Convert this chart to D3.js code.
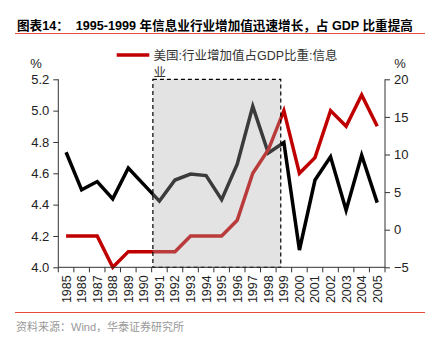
<!DOCTYPE html>
<html><head><meta charset="utf-8">
<script src="https://cdn.jsdelivr.net/npm/d3@7"></script>
<style>
html,body{margin:0;padding:0;background:#fff;}
svg{display:block;font-family:"Liberation Sans",Arial,"Noto Sans CJK SC",sans-serif;}
</style></head>
<body><svg id="c" width="437" height="341"></svg>
<script>
const years = [1985,1986,1987,1988,1989,1990,1991,1992,1993,1994,1995,1996,1997,1998,1999,2000,2001,2002,2003,2004,2005];
// 美国:行业增加值占GDP比重:信息业 (left axis, %)
const shareGDP = [4.2,4.2,4.2,4.0,4.1,4.1,4.1,4.1,4.2,4.2,4.2,4.3,4.6,4.75,5.0,4.6,4.7,5.0,4.9,5.1,4.9];
// growth (right axis, %)
const growth = [10.3,5.3,6.4,4.1,8.2,6.0,3.8,6.6,7.4,7.2,4.0,8.7,16.4,10.2,11.6,-2.7,6.6,9.7,2.6,9.9,3.6];
const leftTicks = [4.0,4.2,4.4,4.6,4.8,5.0,5.2];
const rightTicks = [-5,0,5,10,15,20];
const shadeYears = [1990.58, 1998.8];
const titleText = "图表14：  1995-1999 年信息业行业增加值迅速增长，占 GDP 比重提高";
const legendLines = ["美国:行业增加值占GDP比重:信息", "业"];
const sourceText = "资料来源：Wind，华泰证券研究所";

const svg = d3.select("#c");
const L = 58.3, R = 385, T = 79.3, B = 267.3;
const RED = "#c00000";

const xb = d3.scaleBand().domain(years).range([L, R]).padding(0);
const xc = d => xb(d) + xb.bandwidth()/2;
const xLin = d3.scaleLinear().domain([years[0], years[years.length-1]]).range([xc(years[0]), xc(years[years.length-1])]);
const yL = d3.scaleLinear().domain([4.0, 5.2]).range([B, T]);
const yR = d3.scaleLinear().domain([-5, 20]).range([B, T]);

// title
svg.append("text").attr("x", 17).attr("y", 30).attr("font-size", 12.6).attr("font-weight", "bold")
  .attr("fill", "#000").attr("xml:space","preserve").style("white-space","pre").text(titleText);
svg.append("line").attr("x1", 15).attr("x2", 425).attr("y1", 33.5).attr("y2", 33.5)
  .attr("stroke", "#e8493d").attr("stroke-width", 1);

// lines
const lineL = d3.line().x((d,i) => xc(years[i])).y(d => yL(d));
const lineR = d3.line().x((d,i) => xc(years[i])).y(d => yR(d));
svg.append("path").datum(growth).attr("d", lineR).attr("fill","none").attr("stroke","#000")
  .attr("stroke-width", 3.5).attr("stroke-linejoin","miter");
svg.append("path").datum(shareGDP).attr("d", lineL).attr("fill","none").attr("stroke",RED)
  .attr("stroke-width", 3.5).attr("stroke-linejoin","miter");

// shaded box
const sx0 = xLin(shadeYears[0]), sx1 = xLin(shadeYears[1]);
svg.append("rect").attr("x", sx0).attr("y", yL(5.2)).attr("width", sx1 - sx0).attr("height", yL(4.0) - yL(5.2))
  .attr("fill", "rgb(172,172,172)").attr("fill-opacity", 0.34)
  .attr("stroke", "#000").attr("stroke-width", 1.2).attr("stroke-dasharray", "4,3");

// axes
const axL = svg.append("g").attr("transform", `translate(${L},0)`)
  .call(d3.axisLeft(yL).tickValues(leftTicks).tickFormat(d3.format(".1f")).tickSize(5).tickPadding(4));
const axR = svg.append("g").attr("transform", `translate(${R},0)`)
  .call(d3.axisRight(yR).tickValues(rightTicks).tickFormat(d3.format("d")).tickSize(5).tickPadding(4));
[axL, axR].forEach(a => {
  a.select(".domain").attr("stroke", "#333").attr("d", `M0,${T}V${B}`);
  a.selectAll(".tick line").attr("stroke", "#333");
  a.selectAll(".tick text").attr("font-size", 13).attr("fill", "#222")
    .attr("font-family", "'Liberation Sans',Arial,sans-serif");
});

// x axis
const gx = svg.append("g");
gx.append("line").attr("x1", L).attr("x2", R).attr("y1", B).attr("y2", B).attr("stroke", "#333");
const bounds = years.map(d => xb(d)).concat([xb(years[years.length-1]) + xb.bandwidth()]);
gx.selectAll("line.t").data(bounds).join("line").attr("class","t")
  .attr("x1", d => d).attr("x2", d => d).attr("y1", B).attr("y2", B + 5).attr("stroke", "#333");
gx.selectAll("text").data(years).join("text")
  .attr("transform", d => `translate(${xc(d) + 4.5},${B + 8}) rotate(-90)`)
  .attr("text-anchor", "end").attr("font-size", 12.5).attr("fill", "#222").text(d => d);

// % unit labels
svg.append("text").attr("x", 36).attr("y", 68).attr("text-anchor","middle").attr("font-size", 13).attr("fill","#222").text("%");
svg.append("text").attr("x", 400).attr("y", 68).attr("text-anchor","middle").attr("font-size", 13).attr("fill","#222").text("%");

// legend
svg.append("line").attr("x1", 116.7).attr("x2", 149.3).attr("y1", 55).attr("y2", 55)
  .attr("stroke", RED).attr("stroke-width", 3.5);
const lt = svg.append("text").attr("x", 153.5).attr("y", 59.5).attr("font-size", 12.5).attr("fill", "#333");
legendLines.forEach((s, i) => lt.append("tspan").attr("x", 153.5).attr("dy", i ? 17 : 0).text(s));

// footer
svg.append("line").attr("x1", 15).attr("x2", 425).attr("y1", 312.5).attr("y2", 312.5)
  .attr("stroke", "#e8493d").attr("stroke-width", 1);
svg.append("text").attr("x", 16).attr("y", 331).attr("font-size", 11).attr("fill", "#999").text(sourceText);
</script></body></html>
